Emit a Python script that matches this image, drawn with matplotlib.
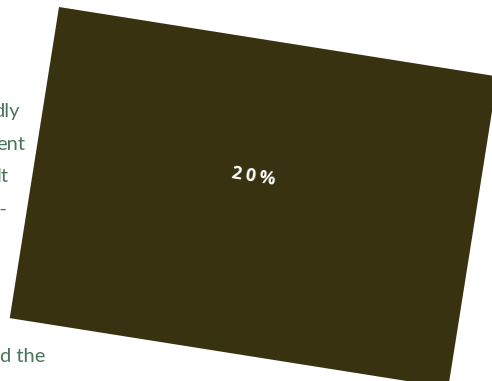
import matplotlib
matplotlib.use("Agg")
import matplotlib.pyplot as plt
from matplotlib.patches import Rectangle

# Data
share_label = "20%"
text_fragments = ["dly", "ent", "lt", "y-", "d the"]

W, H = 492, 381
fig = plt.figure(figsize=(W / 100, H / 100), dpi=100)
ax = fig.add_axes([0, 0, 1, 1])
ax.set_xlim(0, W)
ax.set_ylim(H, 0)
ax.axis("off")

text_color = "#4a7559"
frag_pos = [(20, 112), (25, 144), (8, 177), (8, 209), (45, 357)]
for t, (x, y) in zip(text_fragments, frag_pos):
    ax.text(x, y, t, ha="right", va="center", fontsize=14.5, color=text_color,
            family="Lato", zorder=1)

rect = Rectangle((59, 7), 444, 315, angle=9, facecolor="#383210",
                 edgecolor="none", zorder=2)
ax.add_patch(rect)

ax.text(254, 177, "\u2009".join(share_label), ha="center", va="center",
        rotation=-9, rotation_mode="anchor", fontsize=13, fontweight="bold",
        color="white", family=["Open Sans", "DejaVu Sans"], zorder=3)

fig.savefig("out.png", dpi=100)
